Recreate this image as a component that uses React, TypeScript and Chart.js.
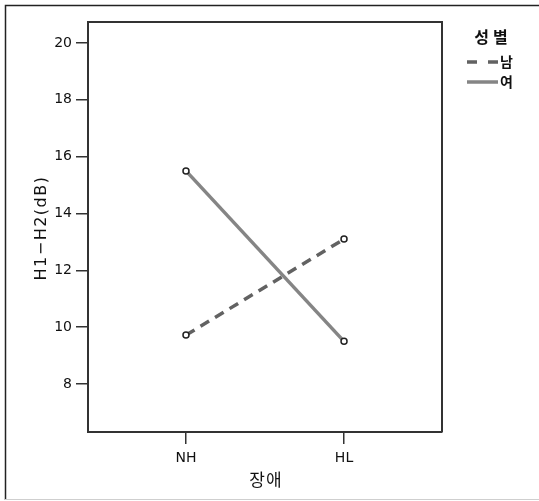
import React, { useEffect, useRef } from "react";
import { Chart, registerables } from "chart.js";

Chart.register(...registerables);

const categories = ["NH", "HL"];
const seriesNames = ["남", "여"];
const maleValues = [9.72, 13.1];
const femaleValues = [15.5, 9.5];
const yTicks = [8, 10, 12, 14, 16, 18, 20];
const xAxisTitle = "장애";
const yAxisTitle = "H1−H2(dB)";
const legendTitle = "성별";

const FONT = "'DejaVu Sans', 'Liberation Sans', sans-serif";
const KFONT = "'Noto Sans CJK KR', 'DejaVu Sans', sans-serif";

const framePlugin = {
  id: "frame",
  afterDraw(chart: any) {
    const ctx = chart.ctx;
    const a = chart.chartArea;
    ctx.save();
    // outer frame
    ctx.strokeStyle = "#222";
    ctx.lineWidth = 1.5;
    ctx.beginPath();
    ctx.moveTo(5.5, 500);
    ctx.lineTo(5.5, 5.5);
    ctx.lineTo(539, 5.5);
    ctx.stroke();
    ctx.strokeStyle = "#cfcfcf";
    ctx.lineWidth = 1;
    ctx.beginPath();
    ctx.moveTo(5, 499.5);
    ctx.lineTo(539, 499.5);
    ctx.stroke();
    // plot box top/right
    ctx.strokeStyle = "#333";
    ctx.lineWidth = 2;
    ctx.beginPath();
    ctx.moveTo(a.left, a.top);
    ctx.lineTo(a.right, a.top);
    ctx.lineTo(a.right, a.bottom);
    ctx.stroke();
    // axis titles
    ctx.fillStyle = "#111";
    ctx.textAlign = "center";
    ctx.textBaseline = "middle";
    ctx.font = "17px " + KFONT;
    (ctx as any).letterSpacing = "1px";
    ctx.fillText(xAxisTitle, (a.left + a.right) / 2 + 1, 480);
    ctx.save();
    ctx.translate(42, (a.top + a.bottom) / 2 + 1);
    ctx.rotate(-Math.PI / 2);
    ctx.font = "16px " + FONT;
    (ctx as any).letterSpacing = "1.5px";
    ctx.fillText(yAxisTitle, 0, 0);
    ctx.restore();
    // legend
    ctx.font = "bold 16px " + KFONT;
    (ctx as any).letterSpacing = "4px";
    ctx.fillText(legendTitle, 493, 37);
    (ctx as any).letterSpacing = "0px";
    const ds = chart.data.datasets;
    ds.forEach((d: any, i: number) => {
      const y = 62 + i * 20;
      ctx.strokeStyle = d.borderColor;
      ctx.lineWidth = 3.5;
      ctx.setLineDash(d.borderDash ? [10, 11] : []);
      ctx.beginPath();
      ctx.moveTo(467, y);
      ctx.lineTo(498, y);
      ctx.stroke();
      ctx.setLineDash([]);
      ctx.fillStyle = "#111";
      ctx.font = "bold 14px " + KFONT;
      ctx.textAlign = "left";
      ctx.fillText(d.label, 500, y);
    });
    ctx.restore();
  },
};

export default function App() {
  const ref = useRef<HTMLCanvasElement | null>(null);
  useEffect(() => {
    if (!ref.current) return;
    const chart = new Chart(ref.current, {
      type: "line",
      data: {
        datasets: [
          {
            label: seriesNames[0],
            data: maleValues.map((v, i) => ({ x: i, y: v })),
            borderColor: "#626262",
            borderWidth: 3.5,
            borderDash: [10, 7],
            pointRadius: 3,
            pointBorderWidth: 1.5,
            pointBorderColor: "#222",
            pointBackgroundColor: "#fff",
            fill: false,
          },
          {
            label: seriesNames[1],
            data: femaleValues.map((v, i) => ({ x: i, y: v })),
            borderColor: "#858585",
            borderWidth: 3.5,
            pointRadius: 3,
            pointBorderWidth: 1.5,
            pointBorderColor: "#222",
            pointBackgroundColor: "#fff",
            fill: false,
          },
        ],
      },
      options: {
        animation: false,
        responsive: false,
        layout: { padding: { left: 0, top: 22, right: 97, bottom: 0 } },
        plugins: { legend: { display: false }, tooltip: { enabled: false } },
        scales: {
          x: {
            type: "linear",
            min: -0.62,
            max: 1.62,
            afterBuildTicks: (s: any) => {
              s.ticks = categories.map((_, i) => ({ value: i }));
            },
            afterFit: (s: any) => {
              s.height = 69;
            },
            ticks: {
              callback: (v: any) => categories[v] ?? "",
              color: "#111",
              font: { family: FONT, size: 14 },
              padding: 6,
              maxRotation: 0,
            },
            grid: {
              drawOnChartArea: false,
              drawTicks: true,
              tickLength: 12,
              color: "#333",
              lineWidth: 1.5,
            },
            border: { color: "#333", width: 2 },
            title: { display: false },
          },
          y: {
            type: "linear",
            min: 6.31,
            max: 20.74,
            afterBuildTicks: (s: any) => {
              s.ticks = yTicks.map((v) => ({ value: v }));
            },
            afterFit: (s: any) => {
              s.width = 88;
            },
            ticks: {
              color: "#111",
              font: { family: FONT, size: 14 },
              padding: 4,
            },
            grid: {
              drawOnChartArea: false,
              drawTicks: true,
              tickLength: 12,
              color: "#333",
              lineWidth: 1.5,
            },
            border: { color: "#333", width: 2 },
            title: { display: false },
          },
        },
      },
      plugins: [framePlugin],
    } as any);
    return () => chart.destroy();
  }, []);
  return (
    <div style={{ position: "absolute", left: 0, top: 0, width: 539, height: 501, background: "#fff" }}>
      <canvas ref={ref} width={539} height={501} />
    </div>
  );
}
